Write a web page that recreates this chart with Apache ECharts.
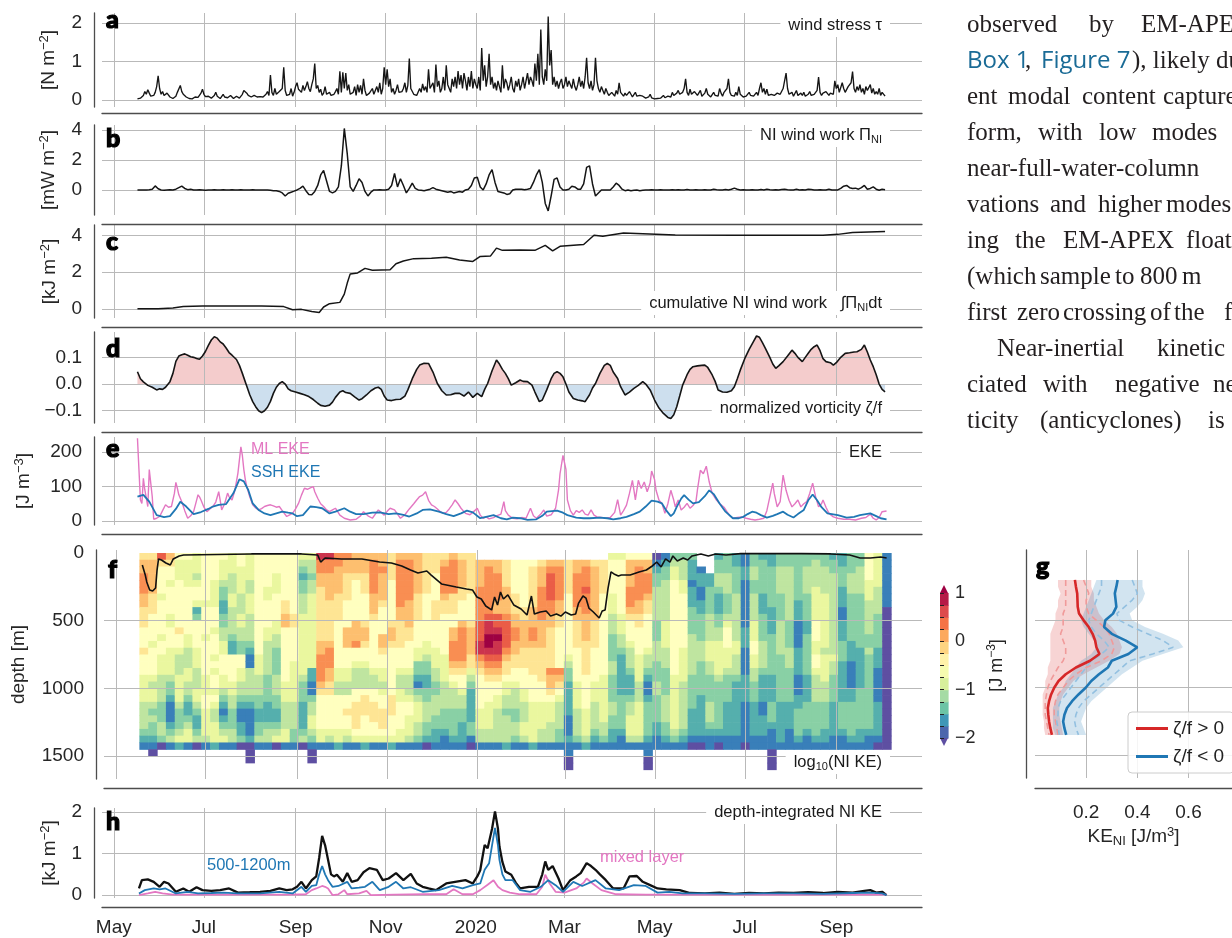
<!DOCTYPE html>
<html>
<head>
<meta charset="utf-8">
<script src="https://cdn.jsdelivr.net/npm/echarts@6/dist/echarts.min.js"></script>
<style>
html,body{margin:0;padding:0;background:#fff}
#chart{width:1232px;height:938px}
</style>
</head>
<body>
<div id="chart"></div>
<script>
// ---------- time axis (days since 2019-05-01) ----------
const monthDays = [0, 61, 123, 184, 245, 305, 366, 427, 489];
const monthNames = ['May', 'Jul', 'Sep', 'Nov', '2020', 'Mar', 'May', 'Jul', 'Sep'];

// ---------- a: wind stress, daily from day 16 ----------
const windStart = 16;
const windStress = [
0.03,0.04,0.05,0.08,0.12,0.22,0.15,0.27,0.18,0.10,
0.08,0.12,0.20,0.35,0.63,0.30,0.15,0.22,0.12,0.10,
0.18,0.14,0.08,0.05,0.04,0.06,0.10,0.20,0.25,0.38,
0.22,0.15,0.12,0.08,0.06,0.04,0.05,0.03,0.06,0.08,
0.10,0.07,0.12,0.18,0.28,0.15,0.09,0.06,0.10,0.07,
0.05,0.08,0.12,0.20,0.10,0.06,0.04,0.09,0.15,0.08,
0.10,0.06,0.05,0.12,0.07,0.04,0.06,0.10,0.08,0.05,
0.08,0.15,0.25,0.20,0.18,0.12,0.10,0.08,0.10,0.12,
0.10,0.08,0.06,0.09,0.12,0.08,0.10,0.15,0.22,0.12,
0.65,0.20,0.12,0.30,0.15,0.10,0.22,0.18,0.30,0.85,
0.25,0.12,0.08,0.15,0.30,0.10,0.20,0.35,0.45,0.28,
0.32,0.20,0.38,0.25,0.35,0.48,0.30,0.22,0.40,0.55,
0.95,0.30,0.38,0.20,0.28,0.12,0.18,0.35,0.15,0.10,
0.20,0.12,0.08,0.15,0.22,0.30,0.15,0.75,0.20,0.72,
0.30,0.70,0.25,0.40,0.15,0.10,0.20,0.35,0.12,0.40,
0.20,0.38,0.15,0.55,0.25,0.12,0.08,0.18,0.22,0.30,
0.15,0.25,0.35,0.20,0.45,0.15,0.30,0.85,0.40,0.80,
0.35,0.55,0.20,0.30,0.15,0.25,0.40,0.20,0.15,0.22,
0.30,0.45,0.20,0.38,1.08,0.30,0.25,0.15,0.20,0.12,
0.15,0.30,0.20,0.42,0.25,0.35,0.20,0.80,0.30,0.25,
0.45,0.20,0.92,0.35,0.50,0.20,0.30,0.60,0.25,0.90,
0.40,0.30,0.20,0.55,0.35,0.60,0.30,0.75,0.40,0.65,
0.30,0.70,0.50,0.25,0.60,0.35,0.75,0.30,0.55,0.40,
0.30,0.60,0.25,1.35,0.50,0.90,0.35,0.60,1.20,0.40,
0.60,0.30,0.45,0.25,0.50,0.35,0.20,0.90,0.30,0.55,
0.45,0.25,0.40,0.60,0.30,0.20,0.50,0.35,0.55,0.25,
0.40,0.60,0.30,0.50,0.70,0.40,0.60,0.50,0.35,0.95,
0.50,1.20,0.40,1.83,0.60,0.40,0.80,0.50,2.17,0.90,
1.30,0.40,0.60,0.35,0.50,0.30,0.45,0.55,0.30,0.40,
0.60,0.35,0.50,0.40,0.30,0.55,0.35,0.25,0.40,0.60,
0.35,0.50,0.30,0.60,1.10,0.45,0.30,0.50,0.25,0.40,
1.10,0.50,0.30,0.20,0.35,0.25,0.15,0.30,0.20,0.12,
0.10,0.20,0.15,0.10,0.25,0.15,0.45,0.20,0.15,0.10,
0.18,0.12,0.10,0.22,0.15,0.08,0.12,0.20,0.10,0.08,
0.12,0.15,0.10,0.06,0.05,0.04,0.08,0.15,0.06,0.04,
0.03,0.05,0.04,0.06,0.05,0.08,0.12,0.06,0.04,0.10,
0.15,0.08,0.20,0.12,0.10,0.18,0.25,0.15,0.10,0.20,
0.30,0.55,0.20,0.12,0.28,0.15,0.10,0.22,0.18,0.12,
0.15,0.25,0.10,0.12,0.18,0.30,0.15,0.10,0.08,0.12,
0.20,0.12,0.15,0.10,0.30,0.18,0.10,0.20,0.15,0.30,
0.55,0.20,0.12,0.15,0.10,0.20,0.12,0.35,0.15,0.10,
0.08,0.12,0.10,0.15,0.20,0.12,0.08,0.10,0.15,0.20,
0.12,0.30,0.45,0.20,0.30,0.15,0.28,0.12,0.10,0.15,
0.20,0.12,0.10,0.18,0.22,0.15,0.20,0.30,0.25,0.70,
0.30,0.15,0.12,0.20,0.10,0.15,0.25,0.12,0.10,0.18,
0.12,0.20,0.10,0.08,0.15,0.22,0.12,0.10,0.15,0.20,
0.25,0.60,0.20,0.12,0.18,0.15,0.22,0.20,0.12,0.18,
0.20,0.15,0.50,0.30,0.40,0.20,0.15,0.45,0.30,0.20,
0.25,0.35,0.30,0.45,0.74,0.30,0.20,0.35,0.25,0.40,
0.20,0.30,0.15,0.35,0.25,0.20,0.40,0.18,0.30,0.15,
0.22,0.15,0.30,0.12,0.20,0.15,0.10
];

// ---------- b: NI wind work [mW m-2], every 2 days from day 16 ----------
const workStart = 16, workStep = 2;
const niWork = [
0,0,0,0,0.02,0.05,0.27,0.08,0,-0.02,
0,0.02,0,0.05,0.15,0.25,0.1,0.02,0.05,0,
0,0.02,0,-0.02,0,0,0.02,0,0,0.01,
0,0,0.01,0,0,0.02,0,0,0,0.01,
0,0,0,0,0,-0.02,-0.05,-0.05,-0.1,-0.2,
-0.4,-0.22,-0.15,-0.08,0,0.1,0.25,-0.05,-0.3,-0.32,
-0.1,0.3,1.0,1.3,0.6,-0.1,-0.2,-0.1,0.2,1.6,
4.1,2.4,0.2,-0.1,0.3,0.75,0.5,-0.1,-0.4,-0.15,
0,0,0.02,0,0,0.05,0.3,1.1,0.2,0.75,
0.3,-0.2,0.1,0.45,0.1,0,-0.02,-0.05,0,0.05,
0.15,0.05,0,-0.05,-0.1,-0.15,-0.1,-0.2,-0.15,-0.1,
-0.15,0,0.05,0.3,0.8,0.85,0.2,0,0.4,1.0,
1.35,0.5,-0.1,-0.15,-0.2,-0.3,-0.25,0,0.05,0.05,
0.05,0.02,0.05,0.1,0.5,1.0,1.35,0.5,-0.9,-1.4,
-0.4,0.7,0.8,0.2,0,0,0.05,0.25,0.2,0.05,
0.05,0.4,1.5,1.6,0.4,-0.4,-0.2,0,0,0,
0,0.2,0.45,0.3,0.05,-0.05,0,-0.05,-0.02,0,
-0.05,-0.02,0,0,0.02,0,0,0.01,0,0,
0,0.02,0,0.01,0,0,0.03,0,0,0.02,
0,0,0.02,0,0,0.05,0.02,0,0,0.03,
0,0.05,0.12,0.05,0,0.02,0,0,0.02,0,
0,0.03,0,0.05,0.02,0,0.01,0,0.03,0.05,
0.02,0,0,0.04,0,0.02,0,0.05,0.03,0,
0,0.02,0,0,0.05,0,0,0,0.1,0.25,
0.3,0.15,0.1,0.12,0.05,0.15,0.3,0.05,0.1,0.2,
0.05,-0.02,0.05,0.02
];

// ---------- c: cumulative NI wind work [kJ m-2] ----------
const cumWork = [[16,0],[30,0],[40,0.05],[47,0.12],[60,0.15],[100,0.15],[115,0.12],[121,-0.05],[127,-0.03],[134,-0.15],[139,-0.2],[142,0.1],[146,0.28],[153,0.35],[156,0.8],[158,1.4],[160,1.9],[165,1.95],[170,2.2],[175,2.1],[187,2.12],[191,2.45],[196,2.6],[203,2.73],[215,2.75],[225,2.8],[234,2.65],[243,2.58],[248,2.85],[255,2.88],[259,3.3],[263,3.18],[275,3.2],[285,3.18],[292,3.45],[297,3.15],[302,3.4],[318,3.5],[325,4.0],[331,3.95],[345,4.12],[380,4.02],[420,4.0],[480,4.0],[490,4.05],[500,4.15],[522,4.2]];

// ---------- d: normalized vorticity zeta/f ----------
const vorticity = [[16,0.046],[18,0.02],[20,0.008],[23,-0.005],[26,-0.012],[29,-0.022],[31,-0.018],[33,-0.02],[35,-0.012],[38,0.009],[40,0.04],[42,0.085],[44,0.105],[46,0.11],[48,0.113],[50,0.108],[52,0.102],[54,0.1],[56,0.096],[58,0.093],[60,0.105],[62,0.122],[64,0.145],[66,0.165],[68,0.177],[70,0.172],[72,0.158],[74,0.15],[76,0.135],[78,0.118],[80,0.108],[83,0.092],[85,0.07],[87,0.04],[90,-0.008],[92,-0.04],[94,-0.066],[96,-0.085],[98,-0.1],[100,-0.107],[102,-0.1],[104,-0.087],[106,-0.065],[108,-0.035],[110,-0.012],[112,0.002],[114,0.009],[116,0.0],[118,-0.018],[120,-0.025],[123,-0.03],[126,-0.035],[129,-0.04],[132,-0.047],[135,-0.058],[138,-0.072],[140,-0.08],[143,-0.083],[146,-0.079],[148,-0.068],[150,-0.05],[153,-0.03],[155,-0.025],[157,-0.032],[160,-0.035],[163,-0.048],[166,-0.06],[168,-0.055],[171,-0.041],[174,-0.025],[177,-0.015],[179,-0.012],[181,-0.02],[183,-0.045],[185,-0.06],[188,-0.062],[191,-0.058],[194,-0.057],[197,-0.045],[199,-0.022],[202,0.02],[205,0.055],[207,0.071],[210,0.078],[213,0.077],[216,0.045],[219,0.002],[222,-0.025],[225,-0.041],[228,-0.04],[231,-0.035],[234,-0.035],[237,-0.045],[240,-0.03],[243,-0.05],[246,-0.035],[249,-0.047],[251,-0.02],[253,0.002],[256,0.05],[259,0.09],[261,0.075],[263,0.055],[265,0.04],[267,0.02],[269,-0.004],[272,0.005],[275,0.015],[277,0.01],[280,0.009],[283,-0.004],[285,-0.03],[288,-0.066],[290,-0.06],[293,-0.022],[296,0.02],[298,0.04],[300,0.046],[302,0.04],[304,0.027],[306,0.0],[308,-0.03],[311,-0.054],[314,-0.06],[317,-0.063],[319,-0.066],[322,-0.04],[324,-0.015],[326,0.002],[329,0.04],[332,0.07],[334,0.077],[336,0.07],[338,0.045],[341,0.021],[343,-0.01],[346,-0.041],[349,-0.03],[352,-0.016],[355,-0.005],[358,0.009],[360,0.0],[363,-0.022],[366,-0.06],[369,-0.09],[372,-0.11],[375,-0.125],[377,-0.129],[379,-0.115],[381,-0.085],[383,-0.045],[385,-0.004],[388,0.035],[390,0.055],[392,0.065],[395,0.068],[398,0.07],[400,0.071],[402,0.062],[405,0.034],[407,0.01],[409,-0.022],[412,-0.03],[415,-0.031],[418,-0.025],[420,-0.01],[422,0.02],[424,0.052],[427,0.095],[430,0.13],[433,0.16],[435,0.18],[437,0.175],[439,0.155],[441,0.134],[444,0.1],[446,0.075],[448,0.059],[450,0.068],[453,0.084],[456,0.105],[459,0.127],[461,0.115],[463,0.1],[466,0.084],[468,0.1],[470,0.115],[472,0.13],[474,0.14],[476,0.146],[478,0.125],[480,0.095],[482,0.084],[485,0.08],[487,0.071],[489,0.08],[492,0.1],[495,0.115],[498,0.117],[501,0.12],[503,0.121],[506,0.13],[508,0.146],[510,0.12],[512,0.09],[514,0.065],[516,0.035],[518,0.0],[520,-0.02],[522,-0.029]];

// ---------- e: eddy kinetic energy [J m-3] ----------
const mlEke = [[16,240],[17,150],[18,61],[19,51],[20,124],[21,90],[22,66],[23,42],[24,149],[25,110],[26,71],[27,5],[29,8],[31,13],[33,30],[35,47],[37,40],[39,42],[41,80],[42,112],[43,95],[44,76],[46,56],[48,30],[50,8],[52,15],[54,27],[56,60],[57,76],[58,70],[59,61],[61,40],[63,27],[65,35],[67,42],[69,55],[71,85],[72,60],[73,32],[75,50],[77,81],[78,70],[80,61],[82,90],[84,139],[86,215],[87,190],[88,149],[89,120],[90,100],[92,70],[94,47],[96,38],[98,32],[100,36],[102,42],[104,45],[106,47],[108,44],[110,40],[112,42],[114,30],[117,13],[119,18],[121,22],[123,35],[125,51],[127,75],[129,95],[131,92],[133,96],[135,100],[136,85],[138,66],[140,50],[142,42],[144,32],[146,27],[148,32],[150,37],[153,17],[156,8],[160,3],[164,5],[167,15],[169,27],[172,15],[175,8],[177,20],[179,32],[181,25],[183,17],[185,28],[187,37],[190,32],[192,20],[194,8],[197,18],[200,35],[203,50],[205,61],[207,71],[209,75],[211,85],[213,60],[215,47],[217,42],[219,35],[221,27],[223,22],[225,25],[227,35],[229,47],[231,61],[233,50],[235,37],[238,22],[241,18],[243,25],[246,37],[248,17],[250,8],[252,12],[254,6],[257,10],[259,15],[262,20],[264,56],[265,30],[267,17],[270,8],[273,6],[276,10],[279,8],[282,37],[284,15],[286,8],[289,20],[291,32],[293,14],[296,18],[299,37],[301,90],[302,137],[304,190],[305,187],[306,150],[307,61],[309,30],[311,17],[313,30],[315,25],[317,32],[319,20],[321,17],[323,32],[325,17],[327,12],[330,10],[333,8],[336,10],[339,25],[341,62],[343,17],[345,30],[347,46],[349,80],[351,118],[352,90],[353,61],[355,118],[356,105],[357,94],[359,113],[361,85],[363,110],[364,145],[366,120],[367,89],[369,60],[371,51],[373,22],[375,50],[377,89],[379,60],[380,41],[382,61],[384,32],[386,40],[388,51],[390,37],[392,45],[394,56],[395,90],[397,147],[399,137],[401,159],[403,113],[405,80],[408,60],[410,51],[413,40],[415,27],[417,15],[419,8],[422,10],[425,12],[428,8],[431,5],[434,3],[437,5],[440,8],[442,30],[444,70],[446,110],[447,80],[449,41],[451,56],[453,133],[455,89],[457,60],[459,41],[461,50],[463,61],[465,41],[467,50],[469,56],[471,80],[473,110],[475,70],[477,41],[479,50],[480,61],[482,40],[484,22],[487,12],[490,8],[494,5],[498,5],[502,3],[506,8],[509,10],[512,20],[514,8],[516,3],[518,10],[520,27],[523,29]];
const sshEke = [[16,71],[20,76],[24,56],[29,17],[34,11],[38,14],[42,35],[45,56],[49,42],[54,20],[59,26],[64,35],[67,42],[71,47],[76,49],[81,81],[85,121],[88,115],[91,90],[94,51],[98,32],[102,22],[106,17],[110,22],[114,27],[118,24],[121,22],[124,14],[128,17],[133,42],[137,40],[141,37],[146,22],[150,27],[156,37],[160,27],[164,20],[169,20],[175,24],[180,25],[186,20],[191,22],[196,18],[200,13],[205,22],[209,32],[214,34],[220,27],[225,20],[230,14],[235,22],[239,30],[243,25],[248,8],[252,12],[257,17],[262,8],[266,5],[270,10],[275,8],[280,3],[286,5],[290,15],[293,27],[300,30],[304,24],[307,17],[313,10],[318,8],[322,8],[329,10],[334,8],[338,5],[343,8],[347,12],[352,20],[356,27],[360,42],[364,59],[368,56],[371,51],[374,30],[377,14],[379,22],[381,41],[384,65],[386,75],[389,62],[392,51],[396,55],[400,72],[403,89],[406,78],[410,51],[414,27],[419,8],[423,8],[426,12],[429,20],[432,27],[435,24],[438,17],[442,10],[446,15],[449,20],[453,27],[456,18],[460,10],[463,20],[467,32],[470,60],[473,77],[476,60],[479,40],[483,22],[490,17],[496,10],[501,12],[505,17],[509,20],[512,22],[516,14],[519,8],[523,5]];

// ---------- f: log10 NI KE, one string per 6-day column, one char per 50 m bin ----------
// level k (hex digit) -> -2 + 0.25 k ; '.' = no data ; spaces are ignored
const keColStart = 16, keColStep = 6, keRowStep = 50;
const keLevels = [
'7889 9988 7776 6676 6655 5544 4432 1',
'7888 8877 7666 6566 6654 5543 4332 10',
'a766 6656 6666 5665 5544 4433 3443 0',
'8766 5666 6556 6655 5543 3211 1234 1',
'6555 6666 6667 6654 4455 5543 3345 2',
'6555 5666 6666 5544 4554 4322 3455 1',
'5554 5665 2366 6655 5444 5543 2234 0',
'6666 6665 6666 5666 6655 5665 5554 1',
'6666 5555 6665 6665 6566 5654 4555 2',
'6555 4332 2334 4556 6655 4321 2345 1',
'5554 4455 4444 3226 6665 5443 3344 1',
'6655 5544 4554 4336 6554 4321 1223 0',
'5555 4455 5444 4321 1444 4321 1112 000',
'6666 6666 6666 6665 5544 4332 2334 1',
'6666 6556 6665 5444 4433 3322 2344 1',
'6665 5566 6655 4433 3344 4332 2345 0',
'6666 6667 7886 6666 6665 5544 4455 1',
'6666 6666 6776 6666 5555 5544 4433 1',
'5432 3344 4555 5555 5543 3322 2234 0',
'5443 4455 5555 5555 5221 1344 5543 100',
'b998 8777 7777 7889 9998 7666 6655 1',
'b998 8887 7777 7899 9887 7666 6654 1',
'9988 8877 7766 6666 6554 4666 6655 2',
'9887 7776 6668 8866 6554 4667 6654 1',
'8887 6666 6688 8966 5444 6677 7765 1',
'8887 7766 6678 8766 5444 6777 6665 2',
'8999 9988 8766 6666 6544 6677 7665 1',
'8898 8887 6666 8876 6554 5667 7765 1',
'7777 6666 6678 8766 6666 6777 6665 2',
'8999 9999 8877 7766 6544 5566 6655 1',
'8999 9998 8887 7666 6544 4566 5554 1',
'8888 8877 7766 6655 3321 3455 5443 1',
'7777 7766 6666 6554 3322 3344 4332 0',
'7776 6667 7766 6655 5443 3444 3322 1',
'7899 9987 7666 6665 5554 4443 3321 1',
'8999 9977 7668 8999 8765 4443 3332 1',
'7888 8776 6689 9999 8766 5443 3222 1',
'7777 7766 6678 8887 7543 2222 2331 0',
'.888 8999 99aa abb9 8766 6665 5544 1',
'.899 9999 9abb ccba 9876 6655 5544 1',
'.889 9998 8aab cbba 9876 6554 4444 1',
'.777 7888 89aa aa98 7765 5443 4444 2',
'.666 6677 7889 9887 7665 4443 3443 1',
'.666 6666 7788 8877 7666 5544 4554 1',
'.677 7777 8889 9877 7766 6655 5555 2',
'.788 8999 9988 8877 7776 6655 5544 1',
'.89a aaa9 9887 7777 7988 7655 5444 1',
'.899 9998 8776 6666 6987 6544 4433 1',
'.777 7766 6666 6665 4332 2222 1112 1100',
'.889 9999 8877 7766 6665 5554 4443 1',
'.899 9a99 9888 8777 7766 6665 5554 2',
'.788 8888 8877 7766 6665 5544 4432 1',
'.777 7766 6666 6666 6655 5555 5443 1',
'5666 6655 5444 3333 4433 3344 3322 1',
'5666 6666 6555 4432 2222 2333 3321 1',
'6888 8999 8766 6544 4322 2344 5554 1',
'6899 9998 8776 6665 5554 4455 5554 1',
'6889 9987 7666 6654 4321 1233 3332 1100',
'0123 3444 4433 3444 3334 4333 3221 1',
'1233 4444 4455 5544 4333 3444 4332 1',
'3455 6666 6666 6666 6655 5555 5543 1',
'3444 5566 6666 6655 5554 4444 4432 1',
'3222 1222 3333 4444 4433 3332 2221 0',
'..12 2112 2333 3444 3333 3222 2221 0',
'...2 2333 3444 4555 4433 3344 4321 1',
'2334 4322 2334 4555 5543 3333 3321 0',
'3334 4433 3456 6655 5433 3322 2221 1',
'2233 3344 4444 4554 4432 2222 2221 1',
'1122 1111 1112 2211 1122 2211 1111 0',
'3344 3344 4455 5665 5443 3322 2221 1',
'2333 3322 2333 3444 4322 2211 2221 1',
'2233 3333 2222 3333 3322 2233 3211 1000',
'3344 4433 3344 4443 3333 3322 2222 1',
'3344 4444 4433 3344 4333 3322 2211 1',
'3333 3332 2211 1122 2211 1223 3332 1',
'3344 4433 3322 3333 3322 2233 3321 1',
'3444 4555 5566 6556 6544 4433 3332 1',
'3344 4455 5555 5545 5554 4433 3322 1',
'2334 4444 4444 4445 4433 3322 2221 1',
'2233 3222 1122 2333 2222 2233 3321 1',
'3334 4433 3333 3222 1111 2233 3332 1',
'3344 4433 3333 3322 2222 3333 3322 1',
'6666 5554 4444 3343 3333 3333 3321 1',
'5555 5444 4333 3322 2111 1122 2221 0',
'1111 1111 0000 0000 0000 0000 0000 0'
];
// mixed layer depth [m]
const mixedLayerDepth = [[18,89],[20,163],[21,214],[23,273],[25,281],[27,259],[28,126],[29,44],[31,52],[34,74],[37,89],[39,44],[43,22],[46,15],[92,7],[126,7],[137,15],[139,67],[142,37],[153,44],[167,44],[175,59],[179,67],[187,74],[194,96],[200,126],[205,148],[211,133],[214,163],[221,229],[231,251],[238,266],[242,273],[245,325],[248,340],[251,392],[255,421],[257,325],[259,384],[261,288],[263,340],[266,310],[270,384],[275,414],[279,458],[282,318],[284,451],[288,436],[292,429],[295,466],[299,451],[302,466],[305,436],[309,458],[312,451],[314,370],[317,318],[319,333],[321,407],[324,436],[328,480],[330,429],[332,421],[334,259],[336,140],[338,155],[341,170],[343,163],[349,163],[355,140],[360,126],[364,96],[367,67],[370,103],[373,44],[376,67],[378,22],[381,59],[385,37],[388,52],[391,22],[397,7],[402,22],[407,7],[414,15],[424,5],[438,5],[465,5],[485,7],[498,15],[505,37],[512,37],[519,30],[523,37]];

// ---------- h: depth-integrated NI KE [kJ m-2] ----------
const keTotal = [[17,0.16],[19,0.36],[23,0.38],[27,0.32],[31,0.2],[34,0.32],[37,0.28],[42,0.08],[47,0.16],[51,0.08],[56,0.19],[60,0.12],[66,0.1],[72,0.12],[78,0.16],[84,0.06],[92,0.07],[99,0.08],[106,0.1],[112,0.16],[117,0.12],[121,0.14],[124,0.2],[127,0.32],[130,0.16],[134,0.36],[137,0.45],[139,0.9],[141,1.43],[143,1.2],[145,0.85],[147,0.5],[149,0.45],[151,0.49],[155,0.32],[158,0.53],[161,0.32],[165,0.36],[169,0.55],[173,0.65],[178,0.61],[182,0.36],[186,0.4],[191,0.53],[196,0.36],[201,0.51],[205,0.28],[209,0.2],[213,0.16],[218,0.12],[225,0.28],[231,0.32],[238,0.36],[243,0.28],[246,0.45],[248,0.6],[249,0.81],[251,1.21],[253,1.13],[256,1.6],[258,2.02],[260,1.6],[261,1.17],[263,0.8],[265,0.57],[269,0.49],[272,0.3],[275,0.16],[281,0.2],[287,0.2],[290,0.5],[292,0.81],[294,0.61],[297,0.7],[299,0.55],[301,0.4],[304,0.12],[309,0.36],[313,0.45],[316,0.53],[320,0.77],[323,0.7],[326,0.61],[329,0.5],[333,0.36],[338,0.16],[345,0.16],[349,0.45],[354,0.46],[358,0.32],[363,0.24],[368,0.16],[374,0.14],[383,0.12],[390,0.05],[400,0.04],[410,0.06],[420,0.03],[430,0.05],[440,0.04],[450,0.06],[460,0.05],[470,0.07],[480,0.05],[490,0.08],[500,0.06],[508,0.1],[512,0.12],[516,0.06],[520,0.08],[523,0.0]];
const keDeep = [[17,0.04],[21,0.12],[27,0.16],[31,0.14],[35,0.16],[42,0.04],[50,0.08],[57,0.04],[66,0.05],[74,0.06],[84,0.04],[99,0.04],[112,0.08],[121,0.04],[127,0.2],[130,0.08],[134,0.22],[137,0.24],[139,0.5],[141,0.7],[143,0.5],[145,0.36],[148,0.2],[152,0.22],[158,0.32],[161,0.16],[166,0.18],[170,0.2],[175,0.32],[180,0.12],[186,0.2],[191,0.32],[196,0.16],[201,0.19],[209,0.08],[220,0.12],[229,0.22],[236,0.16],[243,0.24],[248,0.28],[251,0.61],[254,0.77],[256,1.2],[258,1.62],[260,1.2],[261,0.85],[263,0.5],[265,0.36],[270,0.36],[275,0.12],[282,0.08],[289,0.2],[294,0.36],[299,0.24],[304,0.08],[311,0.32],[317,0.22],[326,0.36],[333,0.16],[342,0.12],[352,0.24],[360,0.22],[368,0.06],[376,0.08],[385,0.04],[400,0.04],[420,0.03],[440,0.04],[460,0.04],[480,0.03],[500,0.05],[512,0.06],[520,0.04],[523,0.0]];
const keMixed = [[17,0.0],[23,0.04],[28,0.08],[33,0.04],[40,0.01],[60,0.01],[80,0.01],[100,0.01],[120,0.01],[130,0.02],[134,0.12],[137,0.16],[141,0.22],[143,0.2],[145,0.16],[148,0.0],[152,0.02],[156,0.12],[158,0.02],[166,0.04],[171,0.1],[174,0.0],[190,0.01],[210,0.02],[225,0.02],[230,0.14],[236,0.02],[243,0.02],[248,0.12],[253,0.25],[257,0.36],[260,0.2],[263,0.12],[268,0.06],[275,0.02],[286,0.02],[290,0.2],[292,0.49],[295,0.28],[299,0.08],[305,0.06],[313,0.16],[318,0.3],[320,0.4],[324,0.28],[330,0.12],[340,0.02],[360,0.01],[400,0.01],[450,0.01],[500,0.01],[523,0.01]];

// ---------- g: NI KE profiles [J m-3] by sign of vorticity ----------
const profDepth = [200,250,300,350,400,450,500,550,600,650,700,750,800,850,900,950,1000,1050,1100,1150,1200,1250,1300,1350];
const posMean = [0.156,0.160,0.165,0.166,0.167,0.172,0.190,0.210,0.225,0.235,0.240,0.252,0.215,0.160,0.120,0.092,0.075,0.063,0.055,0.050,0.052,0.055,0.060,0.066];
const posLo   = [0.09,0.09,0.10,0.09,0.09,0.08,0.08,0.07,0.06,0.06,0.06,0.06,0.06,0.05,0.05,0.04,0.04,0.03,0.03,0.03,0.03,0.035,0.035,0.04];
const posQ1   = [0.12,0.12,0.12,0.12,0.12,0.11,0.11,0.11,0.10,0.11,0.12,0.12,0.11,0.09,0.075,0.06,0.05,0.045,0.04,0.04,0.04,0.045,0.05,0.055];
const posQ3   = [0.19,0.20,0.21,0.20,0.20,0.21,0.24,0.27,0.29,0.30,0.31,0.30,0.26,0.20,0.16,0.13,0.11,0.09,0.08,0.075,0.075,0.08,0.085,0.09];
const posHi   = [0.22,0.22,0.23,0.23,0.24,0.25,0.27,0.30,0.32,0.33,0.34,0.33,0.29,0.24,0.19,0.15,0.13,0.11,0.10,0.095,0.095,0.10,0.105,0.11];
const negMean = [0.323,0.318,0.312,0.315,0.318,0.305,0.275,0.270,0.300,0.355,0.400,0.365,0.300,0.285,0.250,0.220,0.198,0.170,0.145,0.125,0.115,0.110,0.115,0.122];
const negLo   = [0.24,0.23,0.22,0.21,0.20,0.19,0.18,0.19,0.21,0.23,0.24,0.22,0.18,0.16,0.14,0.12,0.11,0.09,0.08,0.07,0.07,0.07,0.07,0.08];
const negQ1   = [0.26,0.26,0.25,0.24,0.23,0.22,0.21,0.22,0.24,0.27,0.29,0.26,0.22,0.20,0.18,0.16,0.14,0.12,0.10,0.09,0.09,0.085,0.09,0.095];
const negQ3   = [0.38,0.39,0.40,0.38,0.35,0.32,0.33,0.38,0.44,0.50,0.54,0.46,0.37,0.34,0.31,0.28,0.25,0.22,0.19,0.17,0.16,0.155,0.16,0.17];
const negHi   = [0.42,0.42,0.43,0.42,0.40,0.37,0.38,0.43,0.50,0.56,0.58,0.50,0.42,0.38,0.34,0.31,0.28,0.25,0.22,0.20,0.19,0.18,0.19,0.20];

// ---------- styling ----------
const SANS = "'Liberation Sans', Arial, Helvetica, sans-serif";
const SERIF = "'Liberation Serif', 'Times New Roman', serif";
const BOLD = "Lato, Roboto, 'DejaVu Sans', sans-serif";
const GRID_C = '#b9b9b9', AX_C = '#4d4d4d', TXT_C = '#262626';
const PINK = '#e377c2', BLUE = '#1f77b4', RED = '#d62728';
const spectral = ['#5e4fa2','#3288bd','#66c2a5','#abdda4','#e6f598','#ffffbf','#fee08b','#fdae61','#f46d43','#d53e4f','#9e0142'];

function richFor(color, size) {
  return {
    sup: {fontSize: size, lineHeight: size, verticalAlign: 'top', fontFamily: SANS, color: color},
    sub: {fontSize: size, lineHeight: size, verticalAlign: 'bottom', fontFamily: SANS, color: color}
  };
}

// ---------- layout ----------
const grids = [
  {left: 102, right: 310, top: 13,  height: 94},   // a
  {left: 102, right: 310, top: 125, height: 90},   // b
  {left: 102, right: 310, top: 225, height: 93},   // c
  {left: 102, right: 310, top: 332, height: 91},   // d
  {left: 102, right: 310, top: 437, height: 88},   // e
  {left: 102, right: 310, top: 550, height: 229},  // f
  {left: 102, right: 310, top: 808, height: 90},   // h
  {left: 1035, right: 0, top: 550, height: 228},   // g
  {left: 940, width: 8, top: 593, height: 145}     // colour bar
];

function timeAxis(gi, offset, labels) {
  return {
    type: 'value', gridIndex: gi, min: -8, max: 547, offset: offset, z: 3,
    axisLine: {show: true, onZero: false, lineStyle: {color: AX_C, width: 1.3}},
    axisTick: {show: false, customValues: monthDays},
    axisLabel: {show: labels, customValues: monthDays, margin: 11, fontSize: 19, color: TXT_C, fontFamily: SANS,
      formatter: v => monthNames[monthDays.indexOf(v)]},
    splitLine: {show: true, lineStyle: {color: GRID_C, width: 1}}
  };
}
function valueAxis(gi, min, max, ticks, name, gap, extra) {
  return Object.assign({
    type: 'value', gridIndex: gi, min: min, max: max, offset: 8, z: 3,
    name: name, nameLocation: 'middle', nameRotate: 90, nameGap: gap,
    nameTextStyle: {fontSize: 19, color: TXT_C, fontFamily: SANS, lineHeight: 22, rich: richFor(TXT_C, 13)},
    axisLine: {show: true, onZero: false, lineStyle: {color: AX_C, width: 1.3}},
    axisTick: {show: false, customValues: ticks},
    axisLabel: {customValues: ticks, margin: 12, fontSize: 19, color: TXT_C, fontFamily: SANS, formatter: v => String(v)},
    splitLine: {show: true, lineStyle: {color: GRID_C, width: 1}}
  }, extra || {});
}
const minusFmt = v => (v < 0 ? '\u2212' : '') + Math.abs(v).toFixed(1);

const xAxes = [
  timeAxis(0, 6, false), timeAxis(1, 9, false), timeAxis(2, 9, false), timeAxis(3, 9, false),
  timeAxis(4, 9, false), timeAxis(5, 9, false), timeAxis(6, 9, true),
  { // g
    type: 'value', gridIndex: 7, min: 0, max: 0.77, offset: 10, z: 3,
    name: 'KE{sub|NI} [J/m{sup|3}]', nameLocation: 'middle', nameGap: 38,
    nameTextStyle: {fontSize: 19, color: TXT_C, fontFamily: SANS, lineHeight: 22, rich: richFor(TXT_C, 13)},
    axisLine: {show: true, onZero: false, lineStyle: {color: AX_C, width: 1.3}},
    axisTick: {show: false, customValues: [0.2, 0.4, 0.6]},
    axisLabel: {customValues: [0.2, 0.4, 0.6], margin: 15, fontSize: 19, color: TXT_C, fontFamily: SANS, formatter: v => v.toFixed(1)},
    splitLine: {show: true, lineStyle: {color: GRID_C, width: 1}}
  },
  {type: 'value', gridIndex: 8, min: 0, max: 1, show: false}
];
const yAxes = [
  valueAxis(0, -0.18, 2.26, [0, 1, 2], '[N m{sup|\u22122}]', 34),
  valueAxis(1, -1.67, 4.33, [0, 2, 4], '[mW m{sup|\u22122}]', 34),
  valueAxis(2, -0.5, 4.56, [0, 2, 4], '[kJ m{sup|\u22122}]', 32),
  valueAxis(3, -0.146, 0.195, [-0.1, 0, 0.1], '', 0, {axisLabel: {customValues: [-0.1, 0, 0.1], margin: 12, fontSize: 19, color: TXT_C, fontFamily: SANS, formatter: minusFmt}}),
  valueAxis(4, -11.6, 243.6, [0, 100, 200], '[J m{sup|\u22123}]', 59),
  valueAxis(5, -22, 1670, [500, 1000, 1500], 'depth [m]', 66, {inverse: true,
    axisLabel: {customValues: [0, 500, 1000, 1500], margin: 12, fontSize: 19, color: TXT_C, fontFamily: SANS, formatter: v => String(v)}}),
  valueAxis(6, -0.07, 2.1, [0, 1, 2], '[kJ m{sup|\u22122}]', 32),
  { // g
    type: 'value', gridIndex: 7, min: -22, max: 1670, inverse: true, offset: 9, z: 3,
    axisLine: {show: true, onZero: false, lineStyle: {color: AX_C, width: 1.3}},
    axisTick: {show: false, customValues: [500, 1000, 1500]},
    axisLabel: {show: false},
    splitLine: {show: true, lineStyle: {color: GRID_C, width: 1}}
  },
  { // colour bar
    type: 'value', gridIndex: 8, min: -2, max: 1, position: 'right', z: 3,
    name: '[J m{sup|\u22123}]', nameLocation: 'middle', nameRotate: 90, nameGap: 38,
    nameTextStyle: {fontSize: 18, color: TXT_C, fontFamily: SANS, lineHeight: 22, rich: richFor(TXT_C, 12)},
    axisLine: {show: false},
    axisTick: {show: true, length: 4, customValues: [-2,-1.75,-1.5,-1.25,-1,-0.75,-0.5,-0.25,0,0.25,0.5,0.75,1], lineStyle: {color: '#222', width: 1}},
    axisLabel: {customValues: [-2, -1, 0, 1], margin: 7, fontSize: 18, color: TXT_C, fontFamily: SANS,
      formatter: v => (v < 0 ? '\u2212' : '') + Math.abs(v)},
    splitLine: {show: false}
  }
];

// ---------- series data builders ----------
const windData = windStress.map((v, i) => [windStart + i, v]);
const workData = niWork.map((v, i) => [workStart + i * workStep, v]);
const heatData = [];
keLevels.forEach((col, i) => {
  const s = col.replace(/ /g, '');
  for (let r = 0; r < s.length; r++) {
    if (s[r] === '.') continue;
    const v = -2 + 0.25 * parseInt(s[r], 16);
    heatData.push([keColStart + i * keColStep, r * keRowStep, keColStart + (i + 1) * keColStep, (r + 1) * keRowStep, v]);
  }
});
const barData = [];
for (let k = 0; k < 12; k++) {
  const lo = -2 + 0.25 * k;
  barData.push([0, lo, 1, lo + 0.25, lo + 0.125]);
}
const profile = arr => arr.map((v, i) => [v, profDepth[i]]);

function renderCell(params, api) {
  const p0 = api.coord([api.value(0), api.value(1)]);
  const p1 = api.coord([api.value(2), api.value(3)]);
  return {
    type: 'rect',
    shape: {x: Math.min(p0[0], p1[0]), y: Math.min(p0[1], p1[1]),
            width: Math.abs(p1[0] - p0[0]) + 0.6, height: Math.abs(p1[1] - p0[1]) + 0.6},
    style: {fill: api.visual('color')}
  };
}
function bandSeries(lo, hi, fill) {
  return {
    type: 'custom', xAxisIndex: 7, yAxisIndex: 7, z: 2, silent: true, data: [[0.1, 500]],
    renderItem: (params, api) => {
      const pts = [];
      for (let i = 0; i < profDepth.length; i++) pts.push(api.coord([lo[i], profDepth[i]]));
      for (let i = profDepth.length - 1; i >= 0; i--) pts.push(api.coord([hi[i], profDepth[i]]));
      return {type: 'polygon', shape: {points: pts}, style: {fill: fill}};
    }
  };
}
// shaded area between the vorticity curve and zero, for one sign
function signFill(sign, fill) {
  return {
    type: 'custom', xAxisIndex: 3, yAxisIndex: 3, z: 2, silent: true, data: [[200, 0]],
    renderItem: (params, api) => {
      const polys = [];
      let cur = null;
      for (let i = 0; i < vorticity.length; i++) {
        const t = vorticity[i][0], v = vorticity[i][1];
        const inside = v * sign > 0;
        if (i > 0) {
          const t0 = vorticity[i - 1][0], v0 = vorticity[i - 1][1];
          const wasInside = v0 * sign > 0;
          if (wasInside !== inside && v !== v0) {
            const tc = t0 + (t - t0) * (0 - v0) / (v - v0);
            if (cur) { cur.push(api.coord([tc, 0])); polys.push(cur); cur = null; }
            else { cur = [api.coord([tc, 0])]; }
          }
        }
        if (inside) {
          if (!cur) cur = [api.coord([t, 0])];
          cur.push(api.coord([t, v]));
        }
      }
      if (cur) { cur.push(api.coord([vorticity[vorticity.length - 1][0], 0])); polys.push(cur); }
      return {type: 'group', children: polys.map(p => ({type: 'polygon', shape: {points: p}, style: {fill: fill}}))};
    }
  };
}
function line(xi, data, color, width, extra) {
  return Object.assign({
    type: 'line', xAxisIndex: xi, yAxisIndex: xi, data: data, symbol: 'none', showSymbol: false, z: 5,
    silent: true, itemStyle: {color: color}, lineStyle: {color: color, width: width}
  }, extra || {});
}
function dashed(arr, color) {
  return line(7, profile(arr), color, 1.6, {lineStyle: {color: color, width: 1.6, type: [6, 4]}, z: 4});
}

const series = [
  line(0, windData, '#151515', 1.35),                                  // 0
  line(1, workData, '#151515', 1.5),                                   // 1
  line(2, cumWork, '#151515', 1.5),                                    // 2
  signFill(1, '#f4cccc'),                                              // 3
  signFill(-1, '#cddfee'),                                             // 4
  line(3, vorticity, '#151515', 1.6),                                  // 5
  line(4, mlEke, PINK, 1.4),                                           // 6
  line(4, sshEke, BLUE, 1.8),                                          // 7
  { // 8 heat map
    type: 'custom', xAxisIndex: 5, yAxisIndex: 5, z: 2, silent: true, progressive: 0,
    dimensions: ['t0', 'z0', 't1', 'z1', 'v'], encode: {x: [0, 2], y: [1, 3]},
    data: heatData, renderItem: renderCell
  },
  line(5, mixedLayerDepth, '#111', 1.6),                               // 9
  line(6, keTotal, '#111', 2.3),                                       // 10
  line(6, keMixed, PINK, 1.8),                                         // 11
  line(6, keDeep, BLUE, 1.8),                                          // 12
  bandSeries(posLo, posHi, 'rgba(214,39,40,0.2)'),                     // 13
  bandSeries(negLo, negHi, 'rgba(31,119,180,0.2)'),                    // 14
  dashed(posQ1, '#f09a9a'), dashed(posQ3, '#f09a9a'),                  // 15,16
  dashed(negQ1, '#93c0e0'), dashed(negQ3, '#93c0e0'),                  // 17,18
  line(7, profile(posMean), RED, 2.6, {name: '\u03b6/f > 0'}),         // 19
  line(7, profile(negMean), BLUE, 2.6, {name: '\u03b6/f < 0'}),        // 20
  { // 21 colour bar
    type: 'custom', xAxisIndex: 8, yAxisIndex: 8, z: 2, silent: true,
    dimensions: ['t0', 'z0', 't1', 'z1', 'v'], encode: {x: [0, 2], y: [1, 3]},
    data: barData, renderItem: renderCell
  },
  { // 22 colour bar extensions
    type: 'custom', xAxisIndex: 8, yAxisIndex: 8, z: 2, silent: true,
    data: [[1, 1.165, 0], [-2, -2.165, 1]],
    renderItem: (params, api) => {
      const b = api.value(0), t = api.value(1);
      return {type: 'polygon', shape: {points: [api.coord([0, b]), api.coord([1, b]), api.coord([0.5, t])]},
        style: {fill: api.value(2) ? '#5e4fa2' : '#9e0142'}};
    }
  }
];

// ---------- annotations ----------
function txt(x, y, text, style) {
  return {type: 'text', x: x, y: y, z: 100, silent: true,
    style: Object.assign({text: text, fill: '#1a1a1a', fontFamily: SANS, fontSize: 17, align: 'left', verticalAlign: 'middle'}, style || {})};
}
function tag(y, text) {
  return txt(890, y, text, {align: 'right', fontSize: 16.5, backgroundColor: '#fff', padding: [2, 8, 2, 8],
    lineHeight: 20, rich: richFor('#1a1a1a', 11)});
}
function letter(x, y, s) {
  return txt(x, y, s, {fontFamily: BOLD, fontWeight: 900, fontSize: 25, fill: '#000', stroke: '#000', lineWidth: 1.2});
}
const elements = [
  letter(106, 20, 'a'), letter(106, 139, 'b'), letter(106, 242, 'c'), letter(106, 349, 'd'),
  letter(106, 449, 'e'), letter(108, 570, 'f'), letter(1036, 567, 'g'), letter(106, 822, 'h'),
  tag(25, 'wind stress \u03c4'),
  tag(135, 'NI wind work \u03a0{sub|NI}'),
  tag(303, 'cumulative NI wind work   \u222b\u03a0{sub|NI}dt'),
  tag(408, 'normalized vorticity \u03b6/f'),
  tag(452, 'EKE'),
  tag(762, 'log{sub|10}(NI KE)'),
  tag(812, 'depth-integrated NI KE'),
  txt(251, 450, 'ML EKE', {fill: PINK, fontSize: 16}),
  txt(251, 473, 'SSH EKE', {fill: BLUE, fontSize: 16}),
  txt(207, 865, '500-1200m', {fill: BLUE, fontSize: 16.5}),
  txt(600, 857, 'mixed layer', {fill: PINK, fontSize: 16.5})
];

// running text beside the figure
const paperLines = [
  [[967, 'observed'], [1089, 'by'], [1141, 'EM-APEX']],
  [[967, 'Box 1', 1], [1025, ','], [1041, 'Figure 7', 1], [1132, '), likely due']],
  [[967, 'ent'], [1008, 'modal'], [1082, 'content'], [1163, 'captured']],
  [[967, 'form,'], [1038, 'with'], [1099, 'low'], [1152, 'modes']],
  [[967, 'near-full-water-column']],
  [[967, 'vations'], [1050, 'and'], [1098, 'higher'], [1166, 'modes']],
  [[967, 'ing'], [1015, 'the'], [1063, 'EM-APEX'], [1186, 'float']],
  [[967, '(which'], [1040, 'sample'], [1115, 'to'], [1140, '800'], [1182, 'm']],
  [[967, 'first'], [1017, 'zero'], [1063, 'crossing'], [1150, 'of'], [1174, 'the'], [1224, 'first']],
  [[997, 'Near-inertial'], [1157, 'kinetic']],
  [[967, 'ciated'], [1043, 'with'], [1115, 'negative'], [1213, 'near']],
  [[967, 'ticity'], [1040, '(anticyclones)'], [1208, 'is']]
];
paperLines.forEach((ln, k) => {
  const y = 25.5 + 36 * k;
  ln.forEach(w => {
    if (w[2]) elements.push(txt(w[0], y, w[1], {fontFamily: "'Open Sans', " + SANS, fontWeight: 500, fontSize: 24, fill: '#1a6b96'}));
    else elements.push(txt(w[0], y, w[1], {fontFamily: SERIF, fontSize: 25, fill: '#231f20'}));
  });
});

const option = {
  animation: false,
  backgroundColor: '#ffffff',
  grid: grids,
  xAxis: xAxes,
  yAxis: yAxes,
  visualMap: [
    {type: 'continuous', min: -2, max: 1, dimension: 4, seriesIndex: [8, 21], show: false, inRange: {color: spectral}}
  ],
  legend: {
    data: ['\u03b6/f > 0', '\u03b6/f < 0'], orient: 'vertical', left: 1128, top: 712,
    icon: 'rect', itemWidth: 32, itemHeight: 3, itemGap: 9, padding: [7, 10, 7, 8],
    backgroundColor: 'rgba(255,255,255,0.85)', borderColor: '#cccccc', borderWidth: 1, borderRadius: 4,
    textStyle: {fontSize: 19, fontFamily: SANS, color: '#222'}
  },
  series: series,
  graphic: {elements: elements}
};

const chart = echarts.init(document.getElementById('chart'), null, {renderer: 'canvas'});
chart.setOption(option);
</script>
</body>
</html>
